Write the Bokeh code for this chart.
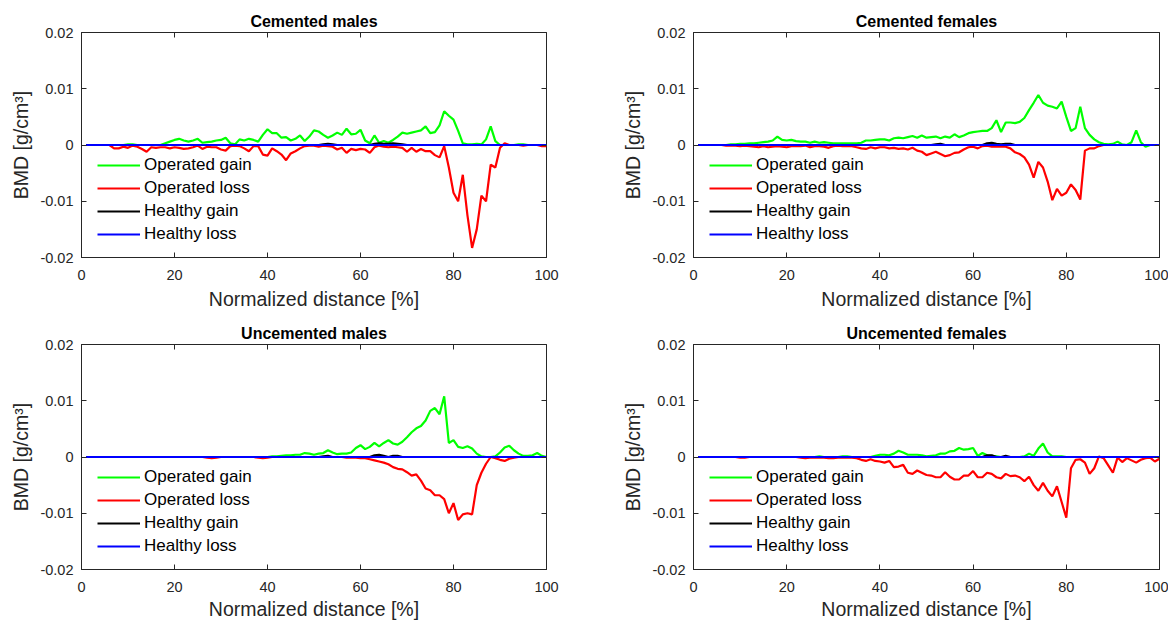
from bokeh.plotting import figure
from bokeh.layouts import column, row
from bokeh.models import Range1d, FixedTicker, LinearAxis
from bokeh.embed import file_html
from bokeh.resources import INLINE

# ---------------- data ----------------
distance = list(range(1, 101))  # normalized distance [%]

titles = ["Cemented males", "Cemented females", "Uncemented males", "Uncemented females"]
series_names = ["Operated gain", "Operated loss", "Healthy gain", "Healthy loss"]
series_colors = ["#00ff00", "#ff0000", "#000000", "#0000ff"]
x_ticks = [0, 20, 40, 60, 80, 100]
y_ticks = [-0.02, -0.01, 0, 0.01, 0.02]
y_tick_labels = ["-0.02", "-0.01", "0", "0.01", "0.02"]

cem_male_gain = [
    0, 0, 0, 0, 0, 0, 0, 0, 0, 0.0001,
    0.0001, 0, 0, 0, 0, 0, 0, 0.0003, 0.0006, 0.0009,
    0.0011, 0.0008, 0.0006, 0.0008, 0.0011, 0.0004, 0.0005, 0.0006, 0.0008, 0.0009,
    0.0013, 0.0003, 0.0001, 0.0010, 0.0008, 0.0011, 0.0009, 0.0006, 0.0018, 0.0028,
    0.0021, 0.0021, 0.0013, 0.0014, 0.0008, 0.0011, 0.0017, 0.0007, 0.0015, 0.0026,
    0.0024, 0.0018, 0.0013, 0.0017, 0.0022, 0.0018, 0.0029, 0.0019, 0.0020, 0.0027,
    0.0008, 0.0003, 0.0017, 0.0004, 0.0007, 0.0004, 0.0009, 0.0015, 0.0022, 0.0020,
    0.0022, 0.0024, 0.0026, 0.0033, 0.0021, 0.0023, 0.0035, 0.0060, 0.0052, 0.0045,
    0.0025, 0.0003, 0.0001, 0.0001, 0.0002, 0.0001, 0.0010, 0.0033, 0.0007, 0.0000,
    0, 0, 0, 0.0001, 0.0001, 0, 0, 0, 0, 0,
]
cem_male_loss = [
    0, 0, 0, 0, 0, 0, -0.0006, -0.0006, -0.0003, -0.0005,
    -0.0001, -0.0003, -0.0007, -0.0012, -0.0004, -0.0005, -0.0004, -0.0004, -0.0006, -0.0004,
    -0.0005, -0.0007, -0.0006, -0.0004, -0.0001, -0.0007, -0.0003, -0.0004, -0.0004, -0.0008,
    -0.0010, -0.0002, -0.0001, -0.0002, -0.0006, -0.0011, -0.0002, -0.0002, -0.0017, -0.0019,
    -0.0006, -0.0011, -0.0017, -0.0027, -0.0015, -0.0011, -0.0006, -0.0002, -0.0001, -0.0001,
    -0.0003, -0.0001, -0.0002, -0.0003, -0.0008, -0.0005, -0.0014, -0.0007, -0.0009, -0.0007,
    -0.0008, -0.0014, -0.0004, -0.0001, -0.0003, -0.0004, -0.0003, -0.0004, -0.0005, -0.0012,
    -0.0005, -0.0012, -0.0007, -0.0011, -0.0011, -0.0018, -0.0022, -0.0002, -0.0040, -0.0085,
    -0.0100, -0.0053, -0.0125, -0.0183, -0.0150, -0.0090, -0.0100, -0.0035, -0.0040, -0.0005,
    0.0003, 0, 0, 0, -0.0001, 0, 0, 0, -0.0002, -0.0002,
]
cem_female_gain = [
    0, 0, 0, 0, 0, 0, 0, 0.0001, 0.0001, 0.0002,
    0.0002, 0.0003, 0.0003, 0.0004, 0.0005, 0.0006, 0.0008, 0.0015, 0.0009, 0.0008,
    0.0009, 0.0007, 0.0006, 0.0006, 0.0004, 0.0006, 0.0004, 0.0005, 0.0004, 0.0003,
    0.0003, 0.0003, 0.0003, 0.0003, 0.0003, 0.0004, 0.0008, 0.0008, 0.0009, 0.0010,
    0.0010, 0.0008, 0.0012, 0.0013, 0.0012, 0.0014, 0.0016, 0.0013, 0.0017, 0.0013,
    0.0014, 0.0015, 0.0012, 0.0015, 0.0013, 0.0019, 0.0014, 0.0017, 0.0021, 0.0023,
    0.0024, 0.0025, 0.0025, 0.0030, 0.0044, 0.0023, 0.0040, 0.0040, 0.0039, 0.0041,
    0.0048, 0.0062, 0.0075, 0.0089, 0.0075, 0.0070, 0.0068, 0.0065, 0.0077, 0.0050,
    0.0025, 0.0030, 0.0068, 0.0030, 0.0018, 0.0010, 0.0005, 0.0002, 0.0001, 0.0002,
    0.0006, 0.0001, 0, 0.0005, 0.0026, 0.0005, -0.0003, 0, 0, 0,
]
cem_female_loss = [
    0, 0, 0, 0, 0, 0, -0.0001, -0.0001, -0.0001, -0.0002,
    -0.0001, -0.0002, -0.0003, -0.0004, -0.0002, -0.0004, -0.0003, -0.0002, -0.0003, -0.0004,
    -0.0002, -0.0002, -0.0002, -0.0001, -0.0004, -0.0002, -0.0002, -0.0003, -0.0005, -0.0002,
    -0.0001, -0.0002, -0.0002, -0.0002, -0.0004, -0.0006, -0.0007, -0.0004, -0.0006, -0.0004,
    -0.0004, -0.0006, -0.0005, -0.0007, -0.0006, -0.0008, -0.0005, -0.0010, -0.0012, -0.0018,
    -0.0015, -0.0012, -0.0016, -0.0020, -0.0018, -0.0014, -0.0013, -0.0008, -0.0004, -0.0003,
    -0.0006, -0.0002, -0.0001, -0.0003, -0.0003, -0.0003, -0.0003, -0.0006, -0.0013, -0.0016,
    -0.0022, -0.0035, -0.0058, -0.0030, -0.0040, -0.0065, -0.0098, -0.0078, -0.0090, -0.0085,
    -0.0070, -0.0080, -0.0097, -0.0010, -0.0006, -0.0006, -0.0002, 0, 0, 0,
    0, 0, 0, 0, 0, 0, 0, 0, 0, 0,
]
uncem_male_gain = [
    0, 0, 0, 0, 0, 0, 0, 0, 0, 0,
    0, 0, 0, 0, 0, 0, 0, 0, 0, 0,
    0, 0, 0, 0, 0, 0, 0, 0, 0, 0,
    0, 0, 0, 0, 0, 0, 0, 0, 0, 0,
    0.0001, 0.0001, 0.0002, 0.0003, 0.0003, 0.0004, 0.0004, 0.0007, 0.0006, 0.0004,
    0.0006, 0.0007, 0.0012, 0.0008, 0.0005, 0.0006, 0.0006, 0.0008, 0.0016, 0.0021,
    0.0014, 0.0018, 0.0025, 0.0019, 0.0025, 0.0030, 0.0024, 0.0022, 0.0027, 0.0035,
    0.0044, 0.0051, 0.0055, 0.0065, 0.0082, 0.0087, 0.0076, 0.0108, 0.0025, 0.0030,
    0.0018, 0.0016, 0.0019, 0.0015, 0.0006, 0.0001, 0, 0, 0.0001, 0.0008,
    0.0017, 0.0020, 0.0012, 0.0006, 0.0002, 0.0002, 0.0003, 0.0007, 0.0002, 0,
]
uncem_male_loss = [
    0, 0, 0, 0, 0, 0, 0, 0, 0, 0,
    0, 0, 0, 0, 0, 0, 0, 0, 0, 0,
    0, 0, 0, 0, 0, 0, -0.0001, -0.0002, -0.0001, 0,
    0, 0, 0, 0, 0, 0, 0, -0.0001, -0.0002, -0.0001,
    0, 0, 0, 0, 0, 0, 0, 0, 0, 0,
    0, 0, 0, 0, 0, 0, -0.0001, -0.0001, -0.0001, -0.0002,
    -0.0002, -0.0004, -0.0006, -0.0008, -0.0010, -0.0013, -0.0018, -0.0021, -0.0022, -0.0027,
    -0.0033, -0.0031, -0.0042, -0.0056, -0.0059, -0.0068, -0.0068, -0.0075, -0.0100, -0.0082,
    -0.0112, -0.0102, -0.0100, -0.0102, -0.0050, -0.0028, -0.0012, 0, -0.0002, -0.0005,
    -0.0007, -0.0003, -0.0001, 0, 0, 0, 0, 0, 0, 0,
]
uncem_female_gain = [
    0, 0, 0, 0, 0, 0, 0, 0, 0, 0,
    0, 0, 0, 0, 0, 0, 0, 0, 0, 0,
    0, 0, 0, 0, 0, 0, 0.0001, 0, 0, 0,
    0, 0.0001, 0.0001, 0, 0, 0, 0, 0, 0.0002, 0.0004,
    0.0004, 0.0003, 0.0006, 0.0011, 0.0008, 0.0004, 0.0004, 0.0004, 0.0003, 0.0001,
    0.0002, 0.0003, 0.0006, 0.0006, 0.0010, 0.0011, 0.0016, 0.0013, 0.0014, 0.0016,
    0.0002, 0.0007, 0.0003, 0.0002, 0.0001, 0, 0, 0, 0, 0,
    0.0001, 0.0006, 0.0002, 0.0015, 0.0024, 0.0008, 0.0001, 0.0001, 0.0001, 0,
    0, 0, 0, 0, 0, 0, 0, 0, 0, 0,
    0, 0, 0, 0, 0, 0, 0, 0, 0, 0,
]
uncem_female_loss = [
    0, 0, 0, 0, 0, 0, 0, 0, 0, -0.0001,
    -0.0001, 0, 0, 0, 0, 0, 0, 0, 0, 0,
    0, 0, -0.0001, -0.0002, -0.0001, -0.0001, -0.0001, -0.0001, -0.0002, -0.0002,
    -0.0001, -0.0001, -0.0001, -0.0001, -0.0002, -0.0005, -0.0007, -0.0004, -0.0007, -0.0008,
    -0.0010, -0.0007, -0.0018, -0.0017, -0.0014, -0.0028, -0.0030, -0.0024, -0.0028, -0.0032,
    -0.0033, -0.0036, -0.0036, -0.0027, -0.0035, -0.0040, -0.0040, -0.0033, -0.0033, -0.0025,
    -0.0036, -0.0036, -0.0028, -0.0030, -0.0036, -0.0038, -0.0030, -0.0034, -0.0033, -0.0036,
    -0.0043, -0.0035, -0.0050, -0.0060, -0.0046, -0.0060, -0.0070, -0.0052, -0.0080, -0.0108,
    -0.0020, -0.0005, -0.0004, -0.0010, -0.0030, -0.0020, 0.0001, -0.0002, -0.0015, -0.0028,
    -0.0001, -0.0009, -0.0002, -0.0006, -0.0010, -0.0005, -0.0002, -0.0001, -0.0008, -0.0003,
]
# healthy side: nonzero values only (distance -> BMD), zero elsewhere
cem_male_healthy_gain = {52: 0.0001, 53: 0.0002, 54: 0.0001, 63: 0.0002, 64: 0.0003,
                         65: 0.0002, 66: 0.0002, 67: 0.0003, 68: 0.0002, 69: 0.0001}
cem_female_healthy_gain = {52: 0.0001, 53: 0.0002, 63: 0.0003, 64: 0.0004, 65: 0.0002,
                           66: 0.0001, 67: 0.0002, 68: 0.0002}
uncem_male_healthy_gain = {52: 0.0001, 53: 0.0002, 63: 0.0003, 64: 0.0004, 65: 0.0002,
                           67: 0.0002, 68: 0.0002}
uncem_female_healthy_gain = {63: 0.0003, 64: 0.0003, 67: 0.0002}
cem_male_healthy_loss = {}
cem_female_healthy_loss = {}
uncem_male_healthy_loss = {}
uncem_female_healthy_loss = {}

panel_series = [
    (cem_male_gain, cem_male_loss, cem_male_healthy_gain, cem_male_healthy_loss),
    (cem_female_gain, cem_female_loss, cem_female_healthy_gain, cem_female_healthy_loss),
    (uncem_male_gain, uncem_male_loss, uncem_male_healthy_gain, uncem_male_healthy_loss),
    (uncem_female_gain, uncem_female_loss, uncem_female_healthy_gain, uncem_female_healthy_loss),
]

FONT = "Liberation Sans"
AX = "#262626"


def make_panel(title, series, left, right, top, bottom, fw, label_standoff):
    p = figure(frame_width=fw, frame_height=225,
               min_border_left=left, min_border_right=right,
               min_border_top=top, min_border_bottom=bottom,
               x_range=Range1d(0, 100), y_range=Range1d(-0.02, 0.02),
               output_backend="svg", toolbar_location=None, title=title)
    p.background_fill_color = "white"
    p.border_fill_color = "white"
    p.outline_line_color = AX
    p.outline_line_width = 1
    p.xgrid.visible = False
    p.ygrid.visible = False

    p.title.align = "center"
    p.title.text_font = FONT
    p.title.text_font_size = "16px"
    p.title.text_font_style = "bold"
    p.title.text_color = "#000000"
    p.title.standoff = 6

    op_gain, op_loss, h_gain, h_loss = series
    ys = [op_gain, op_loss,
          [h_gain.get(x, 0.0) for x in distance],
          [h_loss.get(x, 0.0) for x in distance]]
    for name, color, y in zip(series_names, series_colors, ys):
        p.line(distance, y, line_color=color, line_width=2.2, legend_label=name)

    xa = p.xaxis[0]
    xa.ticker = FixedTicker(ticks=x_ticks)
    xa.axis_label = "Normalized distance [%]"
    ya = p.yaxis[0]
    ya.ticker = FixedTicker(ticks=y_ticks)
    ya.major_label_overrides = dict(zip(y_ticks, y_tick_labels))
    ya.axis_label = "BMD [g/cm³]"
    for a in (xa, ya):
        a.axis_line_color = AX
        a.major_tick_line_color = AX
        a.major_tick_in = 5
        a.major_tick_out = 0
        a.minor_tick_line_color = None
        a.major_label_text_font = FONT
        a.major_label_text_font_size = "14.5px"
        a.major_label_text_color = AX
        a.axis_label_text_font = FONT
        a.axis_label_text_font_size = "19.5px"
        a.axis_label_text_font_style = "normal"
        a.axis_label_text_color = AX
    xa.major_label_standoff = 12
    xa.axis_label_standoff = label_standoff
    ya.major_label_standoff = 8
    ya.axis_label_standoff = 5

    top_ax = LinearAxis(ticker=FixedTicker(ticks=x_ticks))
    right_ax = LinearAxis(ticker=FixedTicker(ticks=y_ticks))
    for a in (top_ax, right_ax):
        a.axis_line_color = None
        a.major_tick_line_color = AX
        a.major_tick_in = 5
        a.major_tick_out = 0
        a.minor_tick_line_color = None
        a.major_label_text_font_size = "0px"
        a.major_label_text_alpha = 0
        a.major_label_standoff = 0
    p.add_layout(top_ax, "above")
    p.add_layout(right_ax, "right")

    lg = p.legend[0]
    lg.location = (16, 13)
    lg.margin = 0
    lg.padding = 0
    lg.spacing = 3
    lg.border_line_color = None
    lg.background_fill_alpha = 0
    lg.glyph_width = 43
    lg.glyph_height = 20
    lg.label_height = 20
    lg.label_standoff = 4
    lg.label_text_font = FONT
    lg.label_text_font_size = "17px"
    lg.label_text_color = "#000000"
    return p


p1 = make_panel(titles[0], panel_series[0], 81, 66, 32, 62, 465, 5)
p2 = make_panel(titles[1], panel_series[1], 81, 9, 32, 62, 466, 5)
p3 = make_panel(titles[2], panel_series[2], 81, 66, 23, 38, 465, 3)
p4 = make_panel(titles[3], panel_series[3], 81, 9, 23, 38, 466, 3)

layout = column(row(p1, p2), row(p3, p4))
p = layout
open("out.html", "w").write(file_html(p, INLINE))
